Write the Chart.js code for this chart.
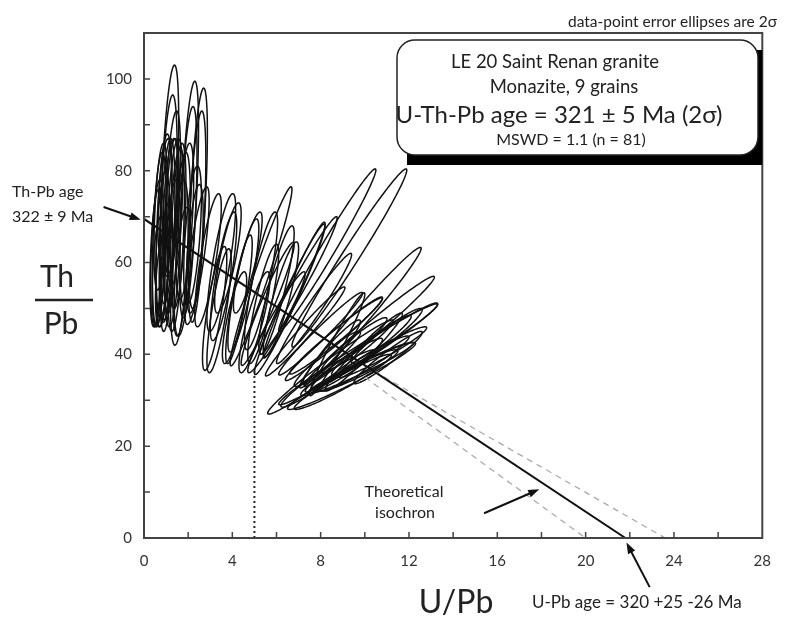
<!doctype html>
<html>
<head>
<meta charset="utf-8">
<title>Th/Pb vs U/Pb isochron</title>
<script src="https://cdn.jsdelivr.net/npm/chart.js"></script>
<style>
    body { margin: 0; background: #fff; }
    canvas { display: block; }
</style>
</head>
<body>
<canvas id="grafico" width="785" height="617"></canvas>
<script>
    // error ellipses: centre (U/Pb, Th/Pb), 2 sigma errors, error correlation
    var ellX = [1.15, 2.05, 2.45, 1.1, 2.0, 2.4, 0.9, 1.05, 0.7, 1.25, 1.45, 0.6, 0.85, 1.3, 1.55, 1.7, 1.6, 0.55, 1.0, 1.85,
        2.2, 0.75, 1.2, 0.95, 1.4, 0.65, 1.75, 2.3, 1.3, 0.8,
        2.4, 2.9, 3.5, 3.6, 3.2, 3.4, 4.5, 5.3, 4.3, 5.4, 6.0, 6.2, 3.8, 4.7, 5.0, 4.1,
        8.3, 9.3, 5.3, 6.6, 9.8, 10.2, 10.3, 9.8, 8.7, 8.0, 7.3, 7.0, 6.8, 5.6, 6.0, 7.7,
        8.45, 9.4, 9.7, 9.95, 11.05, 8.6, 8.75, 8.3, 9.2, 10, 8.8, 10.3, 9.5, 7.8, 11, 9, 10.8, 8.5, 9.7];
    var ellY = [77, 75, 74, 72, 71, 70, 68, 66, 65, 68, 65, 62, 63, 62, 68, 64, 60, 61, 60, 69,
        66, 70, 72, 74, 71, 58, 58, 63, 75, 56,
        61.5, 60.5, 60, 57, 50, 49.5, 55, 56, 52, 51, 54, 52, 61, 60, 47, 48,
        62.7, 61, 57, 52, 48, 45, 41.5, 37, 44, 44.5, 45, 55, 54, 51, 47, 50,
        37.25, 35.3, 40, 40.5, 39.3, 43.4, 42.2, 39, 38, 38, 36, 42, 42, 34, 44, 34, 40.5, 40.5, 36.5];
    var ellSx = [0.42, 0.42, 0.42, 0.4, 0.4, 0.4, 0.35, 0.35, 0.32, 0.35, 0.38, 0.3, 0.32, 0.35, 0.35, 0.4, 0.4, 0.28, 0.3, 0.4,
        0.4, 0.3, 0.35, 0.32, 0.35, 0.28, 0.38, 0.38, 0.35, 0.28,
        0.55, 0.6, 0.65, 0.6, 0.55, 0.55, 0.7, 0.75, 0.6, 0.7, 0.8, 0.8, 0.6, 0.65, 0.7, 0.55,
        2.2, 2.6, 1.4, 1.6, 2.75, 2.95, 3.0, 2.4, 2.1, 1.9, 1.8, 1.75, 1.4, 1.2, 1.3, 1.7,
        2.85, 2.9, 3.6, 1.75, 1.55, 2.2, 1.25, 1.5, 1.6, 2, 1.7, 1.8, 1.5, 1.6, 1.6, 2.2, 2.0, 1.3, 1.8];
    var ellSy = [26, 24.5, 24, 24.5, 23, 23, 20, 21, 19, 19, 20, 16, 17, 16, 18, 20, 18, 15, 13, 17,
        15, 16, 15, 13, 16, 12, 14, 14, 18, 10,
        15, 14.5, 15, 14, 13.5, 13.5, 14.5, 15, 14, 13, 14, 12.5, 12, 11, 11, 10,
        17.7, 19.4, 19.5, 16.4, 15.3, 12, 9.7, 5.6, 8.3, 9, 9.7, 15, 14.8, 13.4, 11, 12,
        10.25, 7.3, 11, 8.5, 5.7, 9.1, 11.2, 6, 5.5, 6, 5, 6.5, 6, 5.5, 6, 6, 5.5, 7, 4.5];
    var ellRho = [0.55, 0.6, 0.6, 0.5, 0.55, 0.55, 0.45, 0.45, 0.4, 0.45, 0.5, 0.4, 0.4, 0.45, 0.5, 0.5, 0.5, 0.4, 0.4, 0.55,
        0.55, 0.45, 0.45, 0.45, 0.45, 0.4, 0.5, 0.55, 0.5, 0.4,
        0.8, 0.8, 0.8, 0.8, 0.8, 0.8, 0.85, 0.85, 0.85, 0.85, 0.88, 0.88, 0.8, 0.85, 0.85, 0.8,
        0.985, 0.985, 0.97, 0.975, 0.985, 0.985, 0.98, 0.97, 0.98, 0.98, 0.98, 0.98, 0.975, 0.96, 0.96, 0.975,
        0.98, 0.97, 0.985, 0.97, 0.96, 0.98, 0.97, 0.95, 0.95, 0.96, 0.95, 0.96, 0.95, 0.95, 0.95, 0.96, 0.96, 0.95, 0.94];

    var xTicks = [0, 4, 8, 12, 16, 20, 24, 28];
    var yTicks = [0, 20, 40, 60, 80, 100];

    // isochron and its error envelope
    var isoX = [0, 21.8];
    var isoY = [69.5, 0];
    var envTopX = [10, 23.6];
    var envTopY = [37.5, 0];
    var envLowX = [10, 20];
    var envLowY = [35, 0];
    var dotX = [5, 5];
    var dotY = [0, 37];

    // arrows (tail -> tip, data units)
    var arrowFrom = [[-1.83, 72.1], [15.4, 5.4], [22.9, -10.7]];
    var arrowTo = [[-0.15, 69.3], [17.9, 10.6], [21.85, -1.0]];

    var FONTE = 'Lato, "Open Sans", sans-serif';

    function pares(xs, ys) {
        return xs.map(function (v, i) { return { x: v, y: ys[i] }; });
    }

    var elipses = {
        id: 'elipses',
        beforeDatasetsDraw(chart) {
            var ctx = chart.ctx, sx = chart.scales.x, sy = chart.scales.y, a = chart.chartArea;
            ctx.save();
            ctx.beginPath();
            ctx.rect(a.left, a.top, a.right - a.left, a.bottom - a.top);
            ctx.clip();
            ctx.strokeStyle = '#111';
            ctx.lineWidth = 1.5;
            for (var i = 0; i < ellX.length; i++) {
                var r = ellRho[i], q = Math.sqrt(1 - r * r);
                ctx.beginPath();
                for (var k = 0; k <= 140; k++) {
                    var t = k / 140 * 2 * Math.PI;
                    var xv = ellX[i] + ellSx[i] * Math.cos(t);
                    var yv = ellY[i] + ellSy[i] * (r * Math.cos(t) + q * Math.sin(t));
                    var px = sx.getPixelForValue(xv), py = sy.getPixelForValue(yv);
                    if (k == 0) ctx.moveTo(px, py); else ctx.lineTo(px, py);
                }
                ctx.closePath();
                ctx.stroke();
            }
            ctx.restore();
        }
    };

    function seta(ctx, x1, y1, x2, y2) {
        var ang = Math.atan2(y2 - y1, x2 - x1);
        ctx.beginPath();
        ctx.moveTo(x1, y1);
        ctx.lineTo(x2 - 8 * Math.cos(ang), y2 - 8 * Math.sin(ang));
        ctx.stroke();
        ctx.beginPath();
        ctx.moveTo(x2, y2);
        ctx.lineTo(x2 - 11 * Math.cos(ang) + 4 * Math.sin(ang), y2 - 11 * Math.sin(ang) - 4 * Math.cos(ang));
        ctx.lineTo(x2 - 11 * Math.cos(ang) - 4 * Math.sin(ang), y2 - 11 * Math.sin(ang) + 4 * Math.cos(ang));
        ctx.closePath();
        ctx.fill();
    }

    var extras = {
        id: 'extras',
        afterDatasetsDraw(chart) {
            var ctx = chart.ctx, sx = chart.scales.x, sy = chart.scales.y, a = chart.chartArea;
            ctx.save();

            // frame
            ctx.strokeStyle = '#444';
            ctx.lineWidth = 2;
            ctx.strokeRect(a.left, a.top, a.right - a.left, a.bottom - a.top);

            // inward ticks
            ctx.lineWidth = 1.5;
            ctx.beginPath();
            for (var v = 2; v < 28; v += 2) {
                var px = sx.getPixelForValue(v);
                ctx.moveTo(px, a.bottom);
                ctx.lineTo(px, a.bottom - 6);
            }
            for (var w = 10; w <= 100; w += 10) {
                var py = sy.getPixelForValue(w);
                ctx.moveTo(a.left, py);
                ctx.lineTo(a.left + 6, py);
            }
            ctx.stroke();

            // text box with black shadow
            ctx.fillStyle = '#000';
            ctx.fillRect(407, 50, a.right - 407, 115);
            ctx.beginPath();
            ctx.roundRect(397, 40, 361, 115, 18);
            ctx.fillStyle = '#fff';
            ctx.fill();
            ctx.strokeStyle = '#222';
            ctx.lineWidth = 1.5;
            ctx.stroke();

            ctx.fillStyle = '#222';
            ctx.textAlign = 'center';
            ctx.textBaseline = 'middle';
            ctx.font = '18.5px ' + FONTE;
            ctx.fillText('LE 20 Saint Renan granite', 555, 62);
            ctx.fillText('Monazite, 9 grains', 564, 87);
            ctx.font = '24px ' + FONTE;
            ctx.fillText('U-Th-Pb age = 321 \u00b1 5 Ma (2\u03c3)', 559, 115);
            ctx.font = '16px ' + FONTE;
            ctx.fillText('MSWD = 1.1 (n = 81)', 571, 140);

            ctx.textAlign = 'right';
            ctx.font = '15.5px ' + FONTE;
            ctx.fillText('data-point error ellipses are 2\u03c3', 777, 22);

            // axis titles
            ctx.textAlign = 'center';
            ctx.font = '32px ' + FONTE;
            ctx.fillText('U/Pb', 456, 603);
            ctx.font = '30px ' + FONTE;
            ctx.fillText('Th', 57, 277);
            ctx.fillText('Pb', 61, 324);
            ctx.lineWidth = 2.5;
            ctx.beginPath();
            ctx.moveTo(35, 300);
            ctx.lineTo(93, 300);
            ctx.stroke();

            // annotations
            ctx.textAlign = 'left';
            ctx.font = '16px ' + FONTE;
            ctx.fillText('Th-Pb age', 12, 192);
            ctx.fillText('322 \u00b1 9 Ma', 12, 217);
            ctx.font = '17px ' + FONTE;
            ctx.fillText('U-Pb age = 320 +25 -26 Ma', 532, 603);
            ctx.textAlign = 'center';
            ctx.font = '16px ' + FONTE;
            ctx.fillText('Theoretical', 404, 492);
            ctx.fillText('isochron', 405, 513);

            ctx.strokeStyle = '#111';
            ctx.fillStyle = '#111';
            ctx.lineWidth = 2;
            for (var i = 0; i < arrowFrom.length; i++) {
                seta(ctx,
                    sx.getPixelForValue(arrowFrom[i][0]), sy.getPixelForValue(arrowFrom[i][1]),
                    sx.getPixelForValue(arrowTo[i][0]), sy.getPixelForValue(arrowTo[i][1]));
            }
            ctx.restore();
        }
    };

    var grafico = new Chart(document.getElementById('grafico'), {
        type: 'scatter',
        data: {
            datasets: [
                { label: 'elipses', data: pares(ellX, ellY), pointRadius: 0 },
                { label: 'isocrona', data: pares(isoX, isoY), showLine: true, borderColor: '#111', borderWidth: 2, pointRadius: 0 },
                { label: 'env1', data: pares(envTopX, envTopY), showLine: true, borderColor: '#aaa', borderWidth: 1.3, borderDash: [6, 5], pointRadius: 0 },
                { label: 'env2', data: pares(envLowX, envLowY), showLine: true, borderColor: '#aaa', borderWidth: 1.3, borderDash: [6, 5], pointRadius: 0 },
                { label: 'idade', data: pares(dotX, dotY), showLine: true, borderColor: '#222', borderWidth: 2, borderDash: [2, 3], pointRadius: 0 }
            ]
        },
        options: {
            responsive: false,
            animation: false,
            layout: { padding: { top: 33, right: 12, left: 0, bottom: 0 } },
            plugins: { legend: { display: false }, tooltip: { enabled: false } },
            scales: {
                x: {
                    type: 'linear', min: 0, max: 28,
                    afterBuildTicks: function (s) { s.ticks = xTicks.map(function (v) { return { value: v }; }); },
                    afterFit: function (s) { s.height = 79; },
                    grid: { display: false, drawTicks: false },
                    border: { display: false },
                    ticks: { padding: 14, color: '#333', font: { family: FONTE, size: 15 } }
                },
                y: {
                    type: 'linear', min: 0, max: 110,
                    afterBuildTicks: function (s) { s.ticks = yTicks.map(function (v) { return { value: v }; }); },
                    afterFit: function (s) { s.width = 144; },
                    grid: { display: false, drawTicks: false },
                    border: { display: false },
                    ticks: { padding: 12, color: '#333', font: { family: FONTE, size: 15 } }
                }
            }
        },
        plugins: [elipses, extras]
    });
</script>
</body>
</html>
